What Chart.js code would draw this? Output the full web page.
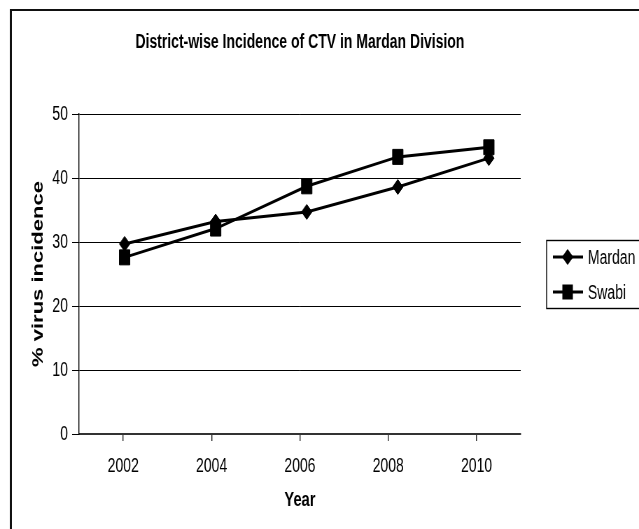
<!DOCTYPE html>
<html>
<head>
<meta charset="utf-8">
<script src="https://cdn.jsdelivr.net/npm/chart.js@4.4.1/dist/chart.umd.min.js"></script>
<style>
  html, body { margin: 0; padding: 0; background: #fff; overflow: hidden; }
  /* the original picture is squeezed sideways, so draw wide and squeeze with css */
  #incidenceChart { display: block; width: 639px; height: 529px; }
</style>
</head>
<body>
<canvas id="incidenceChart" width="913" height="529" style="width:639px;height:529px"></canvas>
<script>
const years = ['2002', '2004', '2006', '2008', '2010'];
const mardan = [29.7, 33.2, 34.7, 38.6, 43.1];
const swabi = [27.6, 32.1, 38.7, 43.3, 44.8];
const yTicks = [0, 10, 20, 30, 40, 50];

const FONT = "'Liberation Sans', Arial, Helvetica, sans-serif";

// outer frame + excel style legend box
const excelBits = {
    id: 'excelBits',
    beforeDraw(chart) {
        const c = chart.ctx;
        c.save();
        c.fillStyle = '#fff';
        c.fillRect(0, 0, chart.width, chart.height);
        c.fillStyle = '#111';
        c.fillRect(14, 9, chart.width, 2);
        c.fillRect(14, 9, 3, chart.height);
        c.restore();
    },
    afterDraw(chart) {
        const c = chart.ctx;
        const area = chart.chartArea;
        const mid = (area.top + area.bottom) / 2;
        const left = area.right + 37;
        const top = Math.round(mid - 34);
        c.save();
        c.strokeStyle = '#000';
        c.lineWidth = 1.4;
        c.strokeRect(left, top + 0.5, 300, 68);
        c.font = '20px ' + FONT;
        c.textBaseline = 'middle';
        c.fillStyle = '#000';
        chart.data.datasets.forEach((ds, i) => {
            const y = top + 17 + i * 35;
            c.beginPath();
            c.strokeStyle = '#000';
            c.lineWidth = 3;
            c.moveTo(left + 9, y);
            c.lineTo(left + 52, y);
            c.stroke();
            Chart.helpers.drawPoint(c, {
                pointStyle: ds.pointStyle,
                radius: ds.pointRadius * 0.8,
                borderWidth: 1
            }, left + 30, y);
            c.fillText(ds.label, left + 59, y + 1);
        });
        c.restore();
    }
};

new Chart(document.getElementById('incidenceChart'), {
    type: 'line',
    data: {
        labels: years,
        datasets: [{
            label: 'Mardan',
            data: mardan,
            xAxisID: 'xp',
            borderColor: '#000',
            backgroundColor: '#000',
            borderWidth: 3,
            pointStyle: 'rectRot',
            pointRadius: 7.5,
            pointBorderWidth: 1,
            tension: 0
        }, {
            label: 'Swabi',
            data: swabi,
            xAxisID: 'xp',
            borderColor: '#000',
            backgroundColor: '#000',
            borderWidth: 3,
            pointStyle: 'rect',
            pointRadius: 10.6,
            pointBorderWidth: 1,
            tension: 0
        }]
    },
    options: {
        responsive: false,
        animation: false,
        devicePixelRatio: 1,
        layout: { padding: { left: 16, right: 169, top: 0, bottom: 0 } },
        plugins: {
            legend: { display: false },
            tooltip: { enabled: false },
            title: {
                display: true,
                fullSize: false,
                text: 'District-wise Incidence of CTV in Mardan Division',
                color: '#000',
                font: { family: FONT, size: 20, weight: 'bold', lineHeight: 1.2 },
                padding: { top: 30, bottom: 60 }
            }
        },
        scales: {
            x: {
                offset: true,
                afterFit(scale) { scale.height = 95; },
                grid: { display: true, drawOnChartArea: false, drawTicks: true, tickLength: 7, color: '#222', lineWidth: 1.4 },
                border: { color: '#333', width: 2 },
                ticks: { color: '#000', padding: 13, font: { family: FONT, size: 20 } },
                title: {
                    display: true,
                    text: 'Year',
                    color: '#000',
                    font: { family: FONT, size: 21, weight: 'bold', lineHeight: 1.2 },
                    padding: { top: 4, bottom: 16 }
                }
            },
            // the points sit a little wider apart than the year labels in the original
            xp: {
                type: 'linear',
                display: false,
                min: 2001,
                max: 2010.7
            },
            y: {
                min: 0,
                max: 50,
                afterFit(scale) { scale.width = 97; },
                afterBuildTicks(scale) { scale.ticks = yTicks.map(v => ({ value: v })); },
                grid: { color: '#000', lineWidth: 1, drawTicks: true, tickLength: 10 },
                border: { color: '#000', width: 1.4 },
                ticks: { color: '#000', padding: 6, font: { family: FONT, size: 20 } },
                title: {
                    display: true,
                    text: '% virus incidence',
                    color: '#000',
                    font: { family: FONT, size: 22, weight: 'bold', lineHeight: 1.2 },
                    padding: { top: 26, bottom: 4 }
                }
            }
        }
    },
    plugins: [excelBits]
});
</script>
</body>
</html>
